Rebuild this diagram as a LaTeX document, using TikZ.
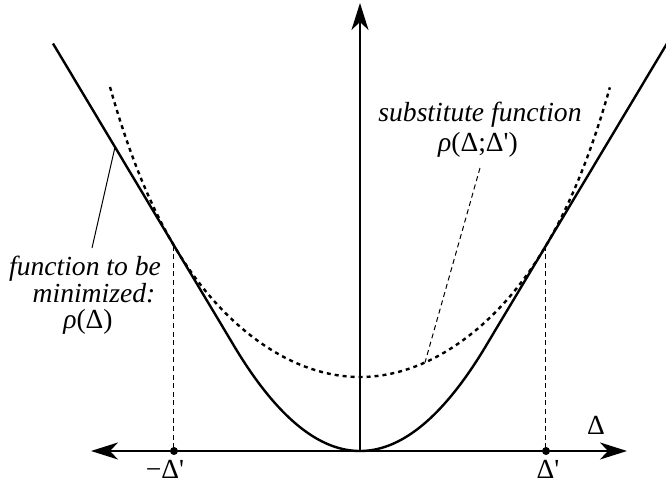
\documentclass[tikz,border=0pt]{standalone}
\usepackage{fontspec}
\setmainfont{Liberation Serif}[Ligatures=TeXOff]
\usetikzlibrary{arrows.meta}
\begin{document}
\begin{tikzpicture}[x=0.5pt,y=0.5pt,
  font=\fontsize{13.8}{16}\selectfont,
  >={Stealth[length=13.5pt,width=8.5pt,inset=4pt]},
  axisline/.style={line width=1pt},
  curve/.style={line width=1.2pt},
  subst/.style={line width=1.2pt, dash pattern=on 2pt off 2pt},
  thindash/.style={line width=0.5pt, dash pattern=on 2.5pt off 1.8pt},
  leader/.style={line width=0.5pt},
  lbl/.style={anchor=base, inner sep=0pt, font=\fontsize{13.8}{16}\selectfont\itshape},
  axlbl/.style={anchor=base, inner sep=0pt}]
\useasboundingbox (-360,-35) rectangle (306,451);
% named points
\coordinate (o) at (0,0);
\coordinate (xl) at (-269,0);
\coordinate (xr) at (267,0);
\coordinate (yt) at (0,448);
\coordinate (pL) at (-186,0);
\coordinate (pR) at (186,0);
\coordinate (tL) at (-186,205.4);
\coordinate (tR) at (186,205.4);
\coordinate (lcA) at (-245,303.9);
\coordinate (lcB) at (-268,203);
\coordinate (rA) at (120,283);
\coordinate (rB) at (65,88.5);
% tangent verticals
\draw[thindash] (tL) -- (pL);
\draw[thindash] (tR) -- (pR);
% substitute function
\draw[subst] plot[domain=-2.5:2.5, samples=201, variable=\u]
  ({100*\u}, {74 + 34.353*(\u*\u) - 0.045*(\u*\u)*(\u*\u) + 0.3156*(\u*\u)*(\u*\u)*(\u*\u)});
% function to be minimized
\draw[curve] plot[domain=-307:307, samples=241, variable=\t]
  (\t, {ifthenelse(abs(\t)<126, 0.006627*(\t)*(\t), 1.67*(abs(\t)-63))});
% axes
\draw[axisline,<->] (xl) -- (xr);
\draw[axisline,->] (o) -- (yt);
\fill (pL) circle (4);
\fill (pR) circle (4);
% leaders
\draw[leader] (lcA) -- (lcB);
\draw[thindash] (rA) -- (rB);
% labels
\node[lbl] (l1) at (-275,175) {function to be};
\node[lbl] (l2) at (-266,148.3) {minimized:};
\node[axlbl] (l3) at (-272,122) {{\itshape ρ}(Δ)};
\node[lbl] (r1) at (120,329.3) {substitute function};
\node[axlbl] (r2) at (118,299.3) {{\itshape ρ}(Δ;Δ')};
\node[axlbl] (dl) at (236,16) {Δ};
\node[axlbl] (ml) at (-195,-28) {−Δ'};
\node[axlbl] (pl) at (188,-28) {Δ'};
\end{tikzpicture}
\end{document}
